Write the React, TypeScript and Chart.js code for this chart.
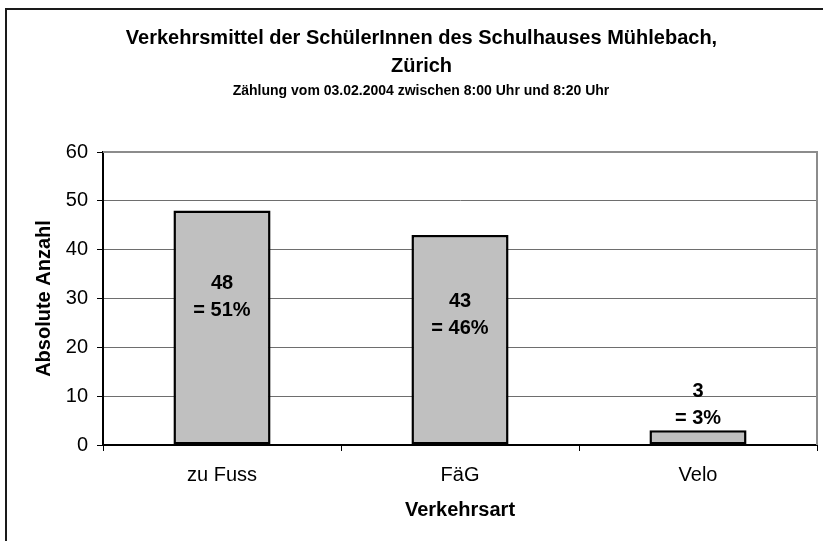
import React, { useEffect, useRef } from 'react';
import { Chart, registerables } from 'chart.js';

Chart.register(...registerables);

// ---- data ----
const categories = ['zu Fuss', 'FäG', 'Velo'];
const counts = [48, 43, 3];
const percentLabels = ['51%', '46%', '3%'];
const yMin = 0;
const yMax = 60;
const yStep = 10;
const titleLines = ['Verkehrsmittel der SchülerInnen des Schulhauses Mühlebach,', 'Zürich'];
const subtitleText = 'Zählung vom 03.02.2004 zwischen 8:00 Uhr und 8:20 Uhr';
const xTitle = 'Verkehrsart';
const yTitle = 'Absolute Anzahl';

// ---- styling ----
const FONT = '"Liberation Sans", Arial, Helvetica, sans-serif';
const W = 823;
const H = 541;
// vertical shift of the first label line (baseline) relative to bar middle, px
const LABEL_SHIFT = [-39, -33, -41];
const LABEL_LINE = 27;

const decorations = {
  id: 'decorations',
  beforeDraw(chart: any) {
    const ctx = chart.ctx;
    ctx.save();
    ctx.fillStyle = '#ffffff';
    ctx.fillRect(0, 0, chart.width, chart.height);
    // outer frame (cut off at right and bottom)
    ctx.strokeStyle = '#1a1a1a';
    ctx.lineWidth = 2;
    ctx.beginPath();
    ctx.moveTo(6, chart.height + 10);
    ctx.lineTo(6, 9);
    ctx.lineTo(chart.width + 10, 9);
    ctx.stroke();
    ctx.restore();
  },
  beforeDatasetsDraw(chart: any) {
    const { ctx, chartArea: a } = chart;
    ctx.save();
    ctx.strokeStyle = '#8c8c8c';
    ctx.lineWidth = 2;
    ctx.beginPath();
    ctx.moveTo(a.left, a.top);
    ctx.lineTo(a.right, a.top);
    ctx.lineTo(a.right, a.bottom);
    ctx.stroke();
    ctx.restore();
  },
  afterDraw(chart: any) {
    const { ctx, chartArea: a } = chart;
    const xs = chart.scales.x;
    const ys = chart.scales.y;
    ctx.save();
    ctx.fillStyle = '#000';
    ctx.textAlign = 'center';
    ctx.textBaseline = 'alphabetic';

    // titles
    ctx.font = `bold 20px ${FONT}`;
    ctx.fillText(titleLines[0], 421.5, 44);
    ctx.fillText(titleLines[1], 421.5, 72);
    ctx.font = `bold 14px ${FONT}`;
    ctx.fillText(subtitleText, 421, 95);

    // x axis title
    ctx.font = `bold 20px ${FONT}`;
    ctx.fillText(xTitle, (a.left + a.right) / 2, 516);

    // y axis title
    ctx.save();
    ctx.translate(50, (a.top + a.bottom) / 2);
    ctx.rotate(-Math.PI / 2);
    ctx.fillText(yTitle, 0, 0);
    ctx.restore();

    // bar labels
    ctx.font = `bold 20px ${FONT}`;
    counts.forEach((v, i) => {
      const x = xs.getPixelForValue(i);
      const top = ys.getPixelForValue(v);
      const bottom = ys.getPixelForValue(0);
      const mid = (top + bottom) / 2;
      const y1 = mid + LABEL_SHIFT[i];
      ctx.fillText(String(v), x, y1);
      ctx.fillText('= ' + percentLabels[i], x, y1 + LABEL_LINE);
    });
    ctx.restore();
  },
};

export default function App() {
  const ref = useRef<HTMLCanvasElement | null>(null);

  useEffect(() => {
    if (!ref.current) return;
    const chart = new Chart(ref.current, {
      type: 'bar',
      data: {
        labels: categories,
        datasets: [
          {
            data: counts,
            backgroundColor: '#c0c0c0',
            borderColor: '#000000',
            borderWidth: 2.5,
            borderSkipped: false,
            categoryPercentage: 1,
            barPercentage: 0.408,
          },
        ],
      },
      options: {
        responsive: false,
        animation: false,
        devicePixelRatio: 1,
        layout: { padding: { top: 152, right: 6, left: 0, bottom: 0 } },
        plugins: {
          legend: { display: false },
          tooltip: { enabled: false },
          title: { display: false },
        },
        scales: {
          x: {
            offset: true,
            afterFit: (s: any) => {
              s.height = H - 445;
            },
            grid: {
              offset: true,
              drawOnChartArea: false,
              drawTicks: true,
              tickLength: 6,
              tickColor: '#000',
              tickWidth: 1,
            },
            border: { display: true, color: '#000', width: 2 },
            ticks: {
              color: '#000',
              font: { family: FONT, size: 20 },
              padding: 12,
              maxRotation: 0,
            },
          },
          y: {
            min: yMin,
            max: yMax,
            afterFit: (s: any) => {
              s.width = 103;
            },
            grid: {
              color: '#6e6e6e',
              lineWidth: 1,
              drawTicks: true,
              tickLength: 6,
              tickColor: '#000',
              tickWidth: 1,
            },
            border: { display: true, color: '#000', width: 2 },
            ticks: {
              stepSize: yStep,
              color: '#000',
              font: { family: FONT, size: 20 },
              padding: 9,
            },
          },
        },
      },
      plugins: [decorations],
    });
    return () => chart.destroy();
  }, []);

  return (
    <div style={{ position: 'absolute', left: 0, top: 0, width: W, height: H }}>
      <canvas ref={ref} width={W} height={H} style={{ display: 'block', width: W, height: H }} />
    </div>
  );
}
